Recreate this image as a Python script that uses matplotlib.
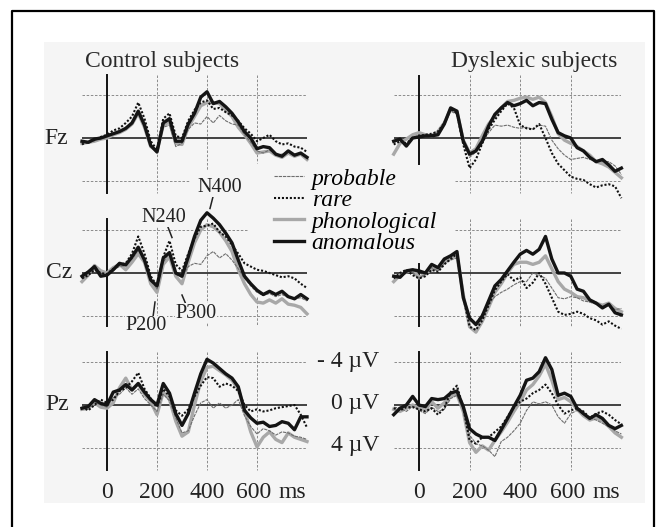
import matplotlib
matplotlib.use("Agg")
import matplotlib.pyplot as plt
from matplotlib.patches import Rectangle
from matplotlib.lines import Line2D

W, H = 657, 527
BG = "#f5f5f5"
FONT = "Liberation Serif"

# time axis in ms, 25 ms steps
times = list(range(-100, 801, 25))
conditions = ["probable", "rare", "phonological", "anomalous"]
sites = ["Fz", "Cz", "Pz"]

# amplitudes in microvolts (negative is drawn upwards)
ctrl_fz_prob = [0.4, 0.5, 0.2, 0.1, -0.1, -0.4, -0.6, -0.9, -1.3, -2.3, -1.1, 0.7, 1.4, -1.0, -1.2, 0.8, 0.5, -0.8, -1.4, -1.3, -2.0, -1.4, -2.1, -1.6, -1.3, -1.2, -0.3, 0.4, 1.2, 1.4, 1.1, 1.6, 1.5, 1.3, 1.5, 1.4, 1.8]
ctrl_fz_rare = [0.6, 0.3, 0.2, -0.1, -0.3, -0.7, -0.9, -1.4, -2.0, -3.3, -1.8, 0.3, 1.1, -1.8, -2.3, -0.2, 0.0, -1.6, -2.6, -3.3, -3.5, -2.7, -2.8, -2.4, -2.1, -1.6, -0.9, -0.4, 0.3, 0.0, -0.3, 0.3, 0.6, 0.5, 0.8, 0.9, 1.3]
ctrl_fz_phon = [0.5, 0.4, 0.3, 0.1, 0.0, -0.3, -0.5, -0.8, -1.3, -2.3, -1.0, 0.8, 1.2, -1.2, -1.5, 0.5, 0.6, -1.0, -2.0, -3.0, -3.3, -3.3, -3.2, -2.6, -2.0, -1.0, -0.3, 0.5, 1.4, 1.3, 1.2, 1.6, 1.8, 1.4, 1.7, 1.5, 2.0]
ctrl_fz_anom = [0.3, 0.4, 0.1, 0.0, -0.2, -0.4, -0.6, -0.9, -1.4, -2.5, -1.2, 0.7, 1.3, -1.4, -1.8, 0.3, 0.3, -1.3, -2.3, -3.8, -4.3, -3.2, -3.4, -2.9, -2.3, -1.5, -0.6, 0.0, 1.0, 0.8, 0.9, 1.5, 1.7, 1.2, 1.6, 1.4, 1.8]

ctrl_cz_prob = [0.5, 0.3, -0.4, 0.1, 0.1, -0.3, -0.6, -0.7, -1.3, -2.1, -1.2, 0.6, 1.5, -1.0, -1.9, 0.1, 0.4, -0.6, -0.9, -0.8, -1.6, -2.0, -1.4, -1.8, -1.2, -0.4, 0.5, 1.2, 1.8, 2.1, 1.9, 2.2, 2.0, 2.3, 2.4, 2.3, 2.6]
ctrl_cz_rare = [0.5, 0.2, -0.3, 0.0, 0.1, -0.4, -0.8, -0.9, -1.8, -3.4, -1.8, 0.3, 1.2, -1.5, -3.0, -0.8, -0.2, -1.8, -3.2, -4.3, -4.4, -4.6, -3.8, -3.4, -2.6, -1.8, -0.9, -0.6, -0.3, -0.2, 0.0, 0.2, 0.4, 0.3, 0.5, 1.0, 1.4]
ctrl_cz_phon = [0.8, 0.2, -0.7, -0.2, 0.0, -0.5, -0.8, -0.3, -1.0, -1.8, -1.0, 1.0, 1.8, -0.8, -1.5, 0.3, 1.0, -1.0, -2.8, -4.0, -4.5, -4.3, -3.8, -3.0, -2.0, -0.3, 1.0, 2.0, 2.7, 2.8, 2.5, 2.8, 2.4, 2.9, 3.0, 3.2, 3.8]
ctrl_cz_anom = [0.3, -0.1, -0.6, 0.3, 0.2, -0.3, -0.9, -0.75, -1.5, -2.4, -1.2, 0.65, 1.2, -1.4, -1.9, 0.0, 0.3, -1.5, -3.4, -4.9, -5.6, -5.1, -4.5, -3.7, -2.8, -1.2, 0.3, 1.0, 1.6, 2.0, 1.7, 2.0, 1.7, 2.2, 2.4, 2.0, 2.4]

ctrl_pz_prob = [0.3, 0.2, -0.3, 0.0, 0.2, -0.7, -1.0, -1.6, -1.0, -1.5, -0.6, 0.0, 0.6, -1.0, -0.4, 1.2, 2.6, 2.4, 1.0, -0.2, -0.5, 0.3, -0.2, 0.3, 0.0, -0.5, 1.0, 2.0, 2.7, 2.2, 2.4, 2.8, 2.5, 2.6, 2.9, 3.0, 3.2]
ctrl_pz_rare = [0.2, 0.5, 0.0, -0.5, -0.2, -0.5, -1.3, -1.6, -2.2, -3.0, -1.5, -0.6, 0.2, -1.5, -0.8, 0.5, 1.0, 0.4, -0.8, -1.8, -2.6, -2.5, -1.7, -2.0, -1.8, -1.3, 0.0, 0.6, 0.4, 0.6, 0.5, 0.3, 0.2, 0.1, 0.0, 0.9, 2.1]
ctrl_pz_phon = [0.4, 0.3, -0.2, 0.2, 0.3, -0.2, -1.6, -2.5, -1.4, -2.0, -1.0, -0.3, 0.9, -1.2, -0.5, 1.5, 2.9, 2.5, 0.0, -2.2, -3.5, -3.6, -3.2, -2.8, -2.3, -1.5, 0.5, 2.5, 3.9, 3.0, 2.5, 3.2, 3.5, 2.6, 3.0, 3.2, 3.4]
ctrl_pz_anom = [0.3, 0.15, -0.5, -0.15, 0.0, -1.2, -1.4, -1.9, -1.4, -2.0, -1.2, -0.5, 0.0, -2.0, -1.1, 0.8, 1.9, 0.8, -1.1, -2.9, -4.25, -3.9, -3.4, -2.9, -2.5, -1.7, 0.5, 1.2, 1.7, 1.6, 2.0, 1.9, 1.55, 1.7, 2.3, 1.1, 1.1]

dys_fz_prob = [0.4, 0.2, 0.6, 0.0, -0.3, -0.2, -0.3, -0.5, -1.2, -2.5, -2.2, 0.4, 1.8, 1.3, 0.5, -0.5, -1.2, -1.1, -1.2, -1.0, -0.9, -1.0, -0.8, -1.2, -1.1, 0.2, 1.0, 1.6, 2.0, 1.9, 1.8, 2.0, 2.1, 2.2, 2.2, 2.6, 3.4]
dys_fz_rare = [0.6, 0.3, 0.5, 0.0, -0.2, -0.3, -0.4, -0.6, -1.4, -2.7, -2.3, 0.6, 2.8, 2.0, 0.5, -0.8, -1.7, -2.5, -3.2, -2.8, -1.2, -0.9, -0.8, -1.3, 0.0, 1.4, 2.4, 3.0, 3.6, 3.8, 3.9, 4.3, 4.6, 4.4, 4.3, 4.5, 5.6]
dys_fz_phon = [1.5, 0.5, 0.1, -0.3, -0.5, -0.3, -0.2, -0.6, -1.4, -2.7, -2.4, 0.2, 1.4, 1.0, -0.2, -1.3, -2.0, -2.8, -3.4, -3.5, -3.7, -3.8, -3.6, -3.8, -3.3, -2.0, -0.4, 0.2, 0.5, 0.8, 1.2, 1.6, 2.2, 2.4, 2.7, 3.2, 3.7]
dys_fz_anom = [0.3, 0.1, 0.75, 0.0, -0.1, -0.2, -0.2, -0.3, -1.3, -2.8, -2.5, 0.3, 1.5, 1.2, 0.3, -1.1, -2.2, -2.8, -3.3, -3.0, -3.2, -3.5, -3.0, -3.3, -3.2, -1.75, -0.5, -0.2, 0.0, 0.9, 1.2, 1.8, 2.2, 2.0, 2.5, 3.1, 2.8]

dys_cz_prob = [0.2, 0.4, 0.0, -0.1, 0.6, 0.0, -0.5, -0.2, -0.9, -1.2, -1.4, 2.0, 4.2, 4.6, 3.8, 2.9, 2.2, 1.8, 1.5, 1.1, 0.8, 0.8, 0.0, 0.2, 0.5, 1.4, 2.3, 2.4, 2.2, 2.3, 2.6, 2.7, 2.9, 3.1, 3.0, 3.4, 3.3]
dys_cz_rare = [0.5, 0.0, -0.3, 0.2, 0.5, 0.3, -0.3, -0.1, -0.8, -1.3, -1.8, 2.2, 5.0, 5.3, 4.4, 3.0, 1.6, 0.8, 0.1, 0.7, 0.4, 1.4, 0.9, 0.0, 1.0, 2.3, 3.6, 3.9, 3.8, 3.6, 3.8, 4.2, 4.4, 4.8, 4.5, 4.9, 5.2]
dys_cz_phon = [0.8, 0.2, -0.1, -0.3, 0.4, 0.1, -0.4, -0.3, -1.0, -1.4, -1.6, 2.0, 5.0, 5.5, 4.5, 3.2, 1.8, 1.0, 0.0, -0.8, -1.0, -1.0, -0.8, -1.0, -1.6, -0.4, 0.8, 1.5, 1.8, 2.2, 2.3, 2.6, 2.8, 3.0, 2.8, 3.3, 3.6]
dys_cz_anom = [0.3, 0.4, -0.2, -0.3, -0.2, 0.0, -0.8, -0.5, -1.3, -1.6, -2.0, 2.3, 4.2, 4.8, 4.0, 2.6, 1.2, 0.6, -0.2, -1.0, -1.75, -2.1, -1.75, -2.2, -3.4, -1.3, 0.0, 0.0, 0.3, 1.5, 1.7, 2.5, 2.8, 3.25, 2.9, 3.7, 3.9]

dys_pz_prob = [0.2, 0.3, 0.6, 0.1, 0.5, 0.8, 0.2, 0.6, 0.4, -0.6, -0.9, 0.5, 2.8, 3.6, 3.8, 4.2, 4.8, 3.4, 3.0, 2.4, 1.7, 0.5, -0.3, -0.1, -0.3, 0.0, 1.1, 1.7, 0.8, 0.5, 0.8, 1.2, 1.4, 1.7, 2.0, 2.4, 2.7]
dys_pz_rare = [0.3, 0.5, 0.2, 0.2, 0.4, 0.6, 0.3, 0.9, 0.3, -1.2, -1.8, 0.3, 3.3, 3.6, 3.0, 3.0, 2.5, 2.0, 1.1, 0.2, -0.3, -0.6, -1.1, -1.4, -1.9, -1.1, 0.0, 0.8, 0.5, 0.3, 0.6, 1.2, 0.8, 0.6, 0.9, 1.4, 1.8]
dys_pz_phon = [0.4, 0.6, 0.3, 0.0, 0.3, 0.5, -0.3, 0.3, -0.2, -0.8, -1.0, 0.6, 3.5, 4.4, 3.8, 4.2, 3.3, 2.5, 1.6, 0.6, -0.3, -1.4, -1.9, -2.7, -3.8, -2.3, -0.5, -0.7, -0.3, 0.4, 1.0, 1.4, 1.2, 1.5, 2.0, 2.6, 3.0]
dys_pz_anom = [0.9, 0.3, 0.0, -0.8, 0.0, 0.15, -0.6, -0.5, -0.6, -1.1, -1.3, 0.15, 2.2, 2.7, 3.0, 3.0, 3.3, 2.3, 1.25, 0.15, -0.9, -2.3, -2.5, -3.1, -4.4, -3.3, -0.9, -1.1, -0.8, 0.3, 0.8, 1.25, 0.9, 1.25, 1.9, 2.2, 1.9]

control = {
    "Fz": [ctrl_fz_prob, ctrl_fz_rare, ctrl_fz_phon, ctrl_fz_anom],
    "Cz": [ctrl_cz_prob, ctrl_cz_rare, ctrl_cz_phon, ctrl_cz_anom],
    "Pz": [ctrl_pz_prob, ctrl_pz_rare, ctrl_pz_phon, ctrl_pz_anom],
}
dyslexic = {
    "Fz": [dys_fz_prob, dys_fz_rare, dys_fz_phon, dys_fz_anom],
    "Cz": [dys_cz_prob, dys_cz_rare, dys_cz_phon, dys_cz_anom],
    "Pz": [dys_pz_prob, dys_pz_rare, dys_pz_phon, dys_pz_anom],
}

styles = {
    "probable": dict(color="#6e6e6e", lw=0.8, ls=(0, (3, 0.8)), zorder=4),
    "rare": dict(color="#111111", lw=1.5, ls=(0, (1, 0.9)), zorder=5),
    "phonological": dict(color="#a8a8a8", lw=2.4, ls="-", zorder=3),
    "anomalous": dict(color="#141414", lw=2.4, ls="-", zorder=6),
}
grid_kw = dict(color="#7a7a7a", lw=0.6, ls=(0, (3, 2)), zorder=1)

# pixel layout of the panels
row_zero = {"Fz": 138, "Cz": 273, "Pz": 405}
row_span = {"Fz": (-5.9, 5.1), "Cz": (-5.0, 4.9), "Pz": (-4.9, 6.0)}
px_per_uv = 10.75
col_zero = [107, 419]
px_per_ms = [0.25, 0.253]

# where the guide lines stop short (text or legend sits over them)
hline_ext = {(0, "Fz", 4): (-100, 332), (0, "Cz", -4): (-100, 560),
             (1, "Fz", 4): (142, 800), (1, "Cz", -4): (142, 800)}
vline_ext = {(0, "Fz", 400): (-5.9, 3.0), (0, "Fz", 600): (-5.9, 2.3),
             (0, "Cz", 600): (2.2, 4.9)}
axis_ext = {(1, "Fz"): (-5.8, 2.4), (1, "Cz"): (-0.85, 4.9)}

plt.rcParams["font.family"] = [FONT, "DejaVu Serif"]
fig = plt.figure(figsize=(W / 100, H / 100), dpi=100)


def fx(px):
    return px / W


def fy(py):
    return 1 - py / H


# scanned page background and frame
fig.add_artist(Rectangle((fx(44), fy(503)), fx(645) - fx(44), fy(42) - fy(503),
                         transform=fig.transFigure, facecolor=BG, edgecolor="none", zorder=-5))
fig.add_artist(Line2D([fx(12), fx(12), fx(654), fx(654)], [0, fy(11), fy(11), 0],
                      transform=fig.transFigure, color="black", lw=1.6))

axes = {}
for ci, group in enumerate([control, dyslexic]):
    sx = px_per_ms[ci]
    for site in sites:
        y0 = row_zero[site]
        ax = fig.add_axes([fx(col_zero[ci] - 100 * sx), fy(y0 + 7 * px_per_uv),
                           900 * sx / W, 14 * px_per_uv / H])
        ax.set_xlim(-100, 800)
        ax.set_ylim(7, -7)
        ax.axis("off")
        top, bot = row_span[site]
        for lvl in [-4, 4]:
            ax.plot(hline_ext.get((ci, site, lvl), (-100, 800)), [lvl, lvl], **grid_kw)
        for t in [200, 400, 600]:
            ax.plot([t, t], vline_ext.get((ci, site, t), (top, bot)), **grid_kw)
        ax.plot([-100, 800], [0, 0], color="#111111", lw=1.1, zorder=2)
        ax.plot([0, 0], axis_ext.get((ci, site), (top, bot)), color="#111111", lw=1.4, zorder=2)
        for cond, vals in zip(conditions, group[site]):
            st = styles[cond]
            ax.plot(times, vals, color=st["color"], lw=st["lw"], ls=st["ls"],
                    zorder=st["zorder"], clip_on=False, solid_joinstyle="round")
        axes[(ci, site)] = ax

# component labels on control Cz
ax = axes[(0, "Cz")]
lab_kw = dict(fontsize=14.5, ha="center", va="center", color="#222222", zorder=8,
              bbox=dict(facecolor=BG, edgecolor="none", pad=0.5))
ax.text(452, -8.0, "N400", **lab_kw)
ax.plot([424, 412], [-7.1, -6.0], color="#222222", lw=1.1, clip_on=False)
ax.text(228, -5.2, "N240", **lab_kw)
ax.plot([240, 260], [-4.5, -3.3], color="#222222", lw=1.1, clip_on=False)
ax.text(156, 4.9, "P200", **lab_kw)
ax.plot([192, 184], [2.7, 4.1], color="#222222", lw=1.1, clip_on=False)
ax.text(356, 3.75, "P300", **lab_kw)
ax.plot([300, 320], [2.05, 3.15], color="#222222", lw=1.1, clip_on=False)

# time labels under the Pz panels
for ci in range(2):
    ax = axes[(ci, "Pz")]
    v = 8.1
    for t in [0, 200, 400]:
        ax.text(t, v, str(t), fontsize=17, ha="center", va="center", color="#222222")
    ax.text(588, v, "600", fontsize=17, ha="center", va="center", color="#222222")
    ax.text(740, v, "ms", fontsize=17, ha="center", va="center", color="#222222")

# titles and electrode names
fig.text(fx(162), fy(62), "Control subjects", fontsize=17, ha="center", va="center", color="#2a2a2a")
fig.text(fx(534), fy(62), "Dyslexic subjects", fontsize=17, ha="center", va="center", color="#2a2a2a")
for site, xp in zip(sites, [56, 59, 57]):
    fig.text(fx(xp), fy(row_zero[site]), site, fontsize=17, ha="center", va="center", color="#222222")

# amplitude scale between columns
for txt, yp in zip(["- 4 \u00b5V", "0 \u00b5V", "4 \u00b5V"], [362, 404, 446]):
    fig.text(fx(379), fy(yp), txt, fontsize=17, ha="right", va="center", color="#222222")

handles = [Line2D([], [], color=styles[c]["color"], lw=styles[c]["lw"], ls=styles[c]["ls"])
           for c in conditions]
fig.legend(handles, conditions, loc="upper left", bbox_to_anchor=(fx(274), fy(168)),
           frameon=False, handlelength=1.25, handletextpad=0.35, labelspacing=0.0,
           borderpad=0, borderaxespad=0,
           prop=dict(family=FONT, style="italic", size=17))

fig.savefig("out.png", dpi=100)
